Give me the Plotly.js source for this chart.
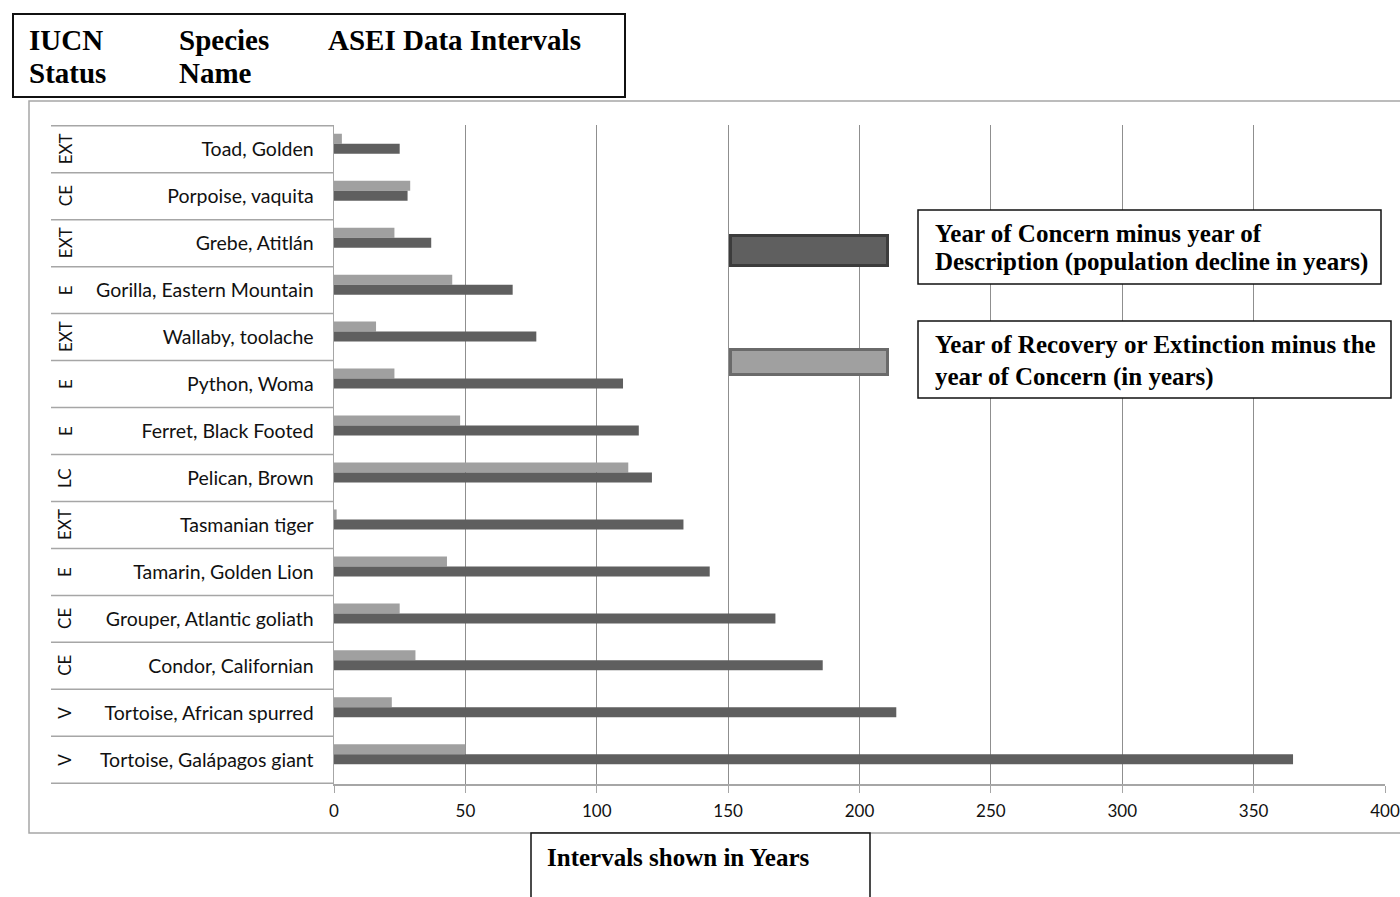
<!DOCTYPE html>
<html>
<head>
<meta charset="utf-8">
<script src="https://cdn.plot.ly/plotly-3.0.1.min.js"></script>
<style>html,body{margin:0;padding:0;background:#fff;}#chart{width:1400px;height:897px;}</style>
</head>
<body>
<div id="chart"></div>
<script>
// ---- data ----
const species = [
  "Toad, Golden", "Porpoise, vaquita", "Grebe, Atitlán", "Gorilla, Eastern Mountain",
  "Wallaby, toolache", "Python, Woma", "Ferret, Black Footed", "Pelican, Brown",
  "Tasmanian tiger", "Tamarin, Golden Lion", "Grouper, Atlantic goliath",
  "Condor, Californian", "Tortoise, African spurred", "Tortoise, Galápagos giant"
];
const iucnStatus = ["EXT", "CE", "EXT", "E", "EXT", "E", "E", "LC", "EXT", "E", "CE", "CE", "V", "V"];
const declineYears = [25, 28, 37, 68, 77, 110, 116, 121, 133, 143, 168, 186, 214, 365];
const recoveryYears = [3, 29, 23, 45, 16, 23, 48, 112, 1, 43, 25, 31, 22, 50];
const seriesNames = [
  "Year of Concern minus year of Description (population decline in years)",
  "Year of Recovery or Extinction minus the year of Concern (in years)"
];
const xTicks = [0, 50, 100, 150, 200, 250, 300, 350, 400];

// ---- geometry helpers (pixel -> paper) ----
const W = 1400, H = 897;
const L = 334, R = 1385, T = 125, B = 784;
const px = v => (v - L) / (R - L);
const py = v => (B - v) / (B - T);

const DARK = "#5f5f5f", LIGHT = "#a0a0a0";
const serif = {family: "Liberation Serif, Times New Roman, serif", weight: 700, color: "#000"};
const sans = "Lato, Open Sans, sans-serif";

const traces = [
  {
    type: "bar", orientation: "h", name: seriesNames[1],
    y: species, x: recoveryYears, marker: {color: LIGHT},
    width: 0.213, offset: -0.33, hoverinfo: "x+y"
  },
  {
    type: "bar", orientation: "h", name: seriesNames[0],
    y: species, x: declineYears, marker: {color: DARK},
    width: 0.213, offset: -0.117, hoverinfo: "x+y"
  }
];

const shapes = [];
const annotations = [];
// outer grey frame
shapes.push({type: "rect", xref: "paper", yref: "paper", x0: px(29), x1: px(1410), y0: py(101), y1: py(833),
  line: {color: "#a6a6a6", width: 1.5}, layer: "below"});
// row separators in the label table
for (let i = 0; i <= species.length; i++) {
  shapes.push({type: "line", xref: "paper", yref: "y", x0: px(51), x1: px(333), y0: i - 0.5, y1: i - 0.5,
    line: {color: "#a6a6a6", width: 1.5}});
}
// status labels
iucnStatus.forEach((s, i) => {
  annotations.push({xref: "paper", yref: "y", x: px(65), y: species[i], text: s, showarrow: false,
    textangle: -90, xanchor: "center", yanchor: "middle",
    font: {family: sans, size: 17, color: "#111"}});
});
// header box
shapes.push({type: "rect", xref: "paper", yref: "paper", x0: px(13), x1: px(625), y0: py(14), y1: py(97),
  line: {color: "#111", width: 2}, fillcolor: "#fff"});
const head = [["IUCN", 27, 40], ["Status", 27, 73], ["Species", 177, 40], ["Name", 177, 73], ["ASEI Data Intervals", 326, 40]];
head.forEach(h => annotations.push({xref: "paper", yref: "paper", x: px(h[1]), y: py(h[2]), text: h[0],
  showarrow: false, xanchor: "left", yanchor: "middle", font: Object.assign({size: 29}, serif)}));
// legend swatches
shapes.push({type: "rect", xref: "paper", yref: "paper", x0: px(730.5), x1: px(887.5), y0: py(235.5), y1: py(265.5),
  line: {color: "#3c3c3c", width: 3}, fillcolor: DARK, layer: "above"});
shapes.push({type: "rect", xref: "paper", yref: "paper", x0: px(730.5), x1: px(887.5), y0: py(349.5), y1: py(374.5),
  line: {color: "#6a6a6a", width: 3}, fillcolor: LIGHT, layer: "above"});
// legend text boxes
shapes.push({type: "rect", xref: "paper", yref: "paper", x0: px(918), x1: px(1381), y0: py(210), y1: py(284),
  line: {color: "#111", width: 1.5}, fillcolor: "#fff", layer: "above"});
shapes.push({type: "rect", xref: "paper", yref: "paper", x0: px(918), x1: px(1391), y0: py(321), y1: py(398),
  line: {color: "#111", width: 1.5}, fillcolor: "#fff", layer: "above"});
const leg = [["Year of Concern minus year of", 233], ["Description (population decline in years)", 262],
             ["Year of Recovery or Extinction minus the", 344], ["year of Concern (in years)", 377]];
leg.forEach(l => annotations.push({xref: "paper", yref: "paper", x: px(933), y: py(l[1]), text: l[0],
  showarrow: false, xanchor: "left", yanchor: "middle", font: Object.assign({size: 25}, serif)}));
// axis title box
shapes.push({type: "rect", xref: "paper", yref: "paper", x0: px(531), x1: px(870), y0: py(833), y1: py(905),
  line: {color: "#111", width: 1.5}, fillcolor: "#fff"});
annotations.push({xref: "paper", yref: "paper", x: px(545), y: py(857), text: "Intervals shown in Years",
  showarrow: false, xanchor: "left", yanchor: "middle", font: Object.assign({size: 25}, serif)});

const layout = {
  width: W, height: H,
  margin: {l: L, r: W - R, t: T, b: H - B, pad: 0},
  paper_bgcolor: "#fff", plot_bgcolor: "#fff",
  showlegend: false, barmode: "overlay",
  xaxis: {
    range: [0, 400], tickvals: xTicks, ticktext: xTicks.map(String),
    showgrid: true, gridcolor: "#8f8f8f", gridwidth: 1,
    zeroline: false, showline: true, linecolor: "#a6a6a6", linewidth: 1.5,
    ticks: "outside", ticklen: 7, tickcolor: "#a6a6a6", tickwidth: 1,
    ticklabelstandoff: 4,
    tickfont: {family: sans, size: 17, color: "#111"}, fixedrange: true
  },
  yaxis: {
    type: "category", categoryorder: "array", categoryarray: species,
    autorange: "reversed", showgrid: false, zeroline: false,
    showline: true, linecolor: "#a6a6a6", linewidth: 1.5, ticks: "",
    ticklabelstandoff: 15,
    tickfont: {family: sans, size: 19.5, color: "#111"}, fixedrange: true
  },
  shapes: shapes, annotations: annotations
};

Plotly.newPlot("chart", traces, layout, {displayModeBar: false, staticPlot: true});
</script>
</body>
</html>
